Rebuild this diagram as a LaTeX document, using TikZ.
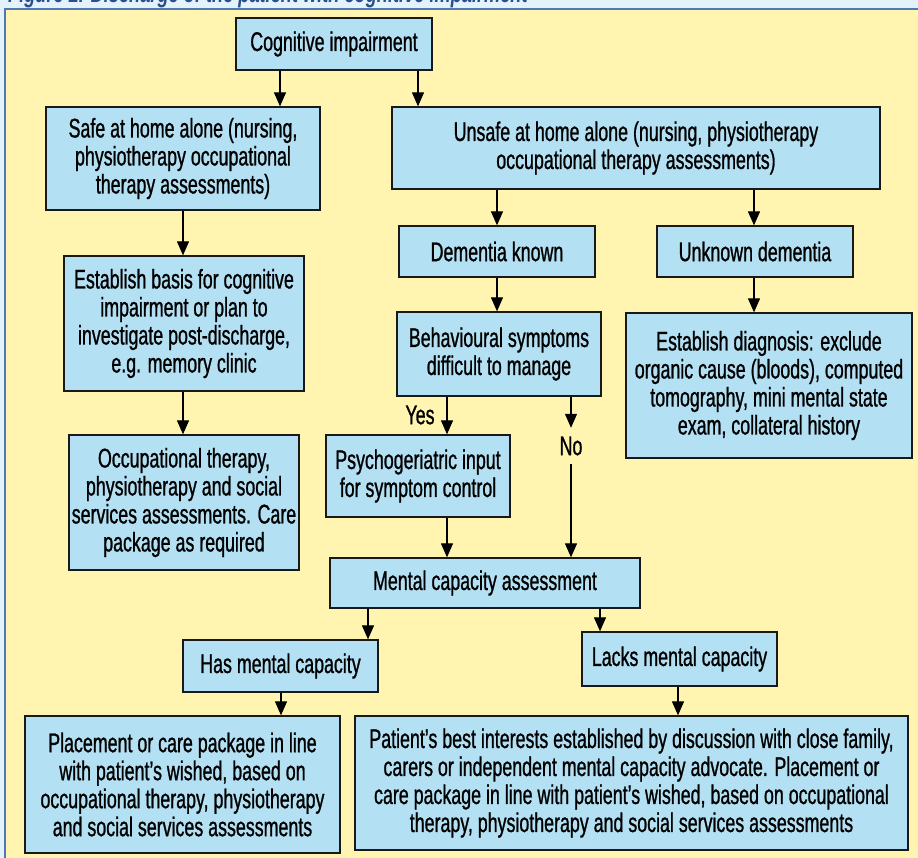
\documentclass[tikz,border=0pt]{standalone}
\usepackage{fontspec}
\setmainfont{Liberation Sans}[FakeStretch=0.66,FakeBold=0.9]
\newfontfamily\titlefont{Liberation Sans}[FakeStretch=0.7]
\usetikzlibrary{arrows.meta}
\definecolor{outerbg}{HTML}{E4F2FB}
\definecolor{panel}{HTML}{FFF5B0}
\definecolor{panelline}{HTML}{4F79B3}
\definecolor{boxfill}{HTML}{B3E0F3}
\definecolor{titleblue}{HTML}{2B4F8E}
\tikzset{
  fc/.style={draw=black!90, line width=1.3pt, fill=boxfill, align=center, inner sep=0pt,
    font=\fontsize{27}{28}\selectfont},
  arr/.style={line width=1.2pt, -{Triangle[length=14pt,width=12pt]}},
  lbl/.style={font=\fontsize{27}{28}\selectfont, inner sep=1pt}
}
\begin{document}
\begin{tikzpicture}[x=1pt,y=-1pt]
\useasboundingbox (0,0) rectangle (918,858);
\fill[outerbg] (0,0) rectangle (918,858);
\fill[panel] (5,9) rectangle (930,870);
\draw[panelline, line width=2pt] (5,870) -- (5,9) -- (930,9);
\node[anchor=base west, text=titleblue, inner sep=0pt, font=\titlefont\fontsize{26}{28}\selectfont\bfseries\itshape] (title) at (8,3) {Figure 2. Discharge of the patient with cognitive impairment};

\node[fc, minimum width=196pt, minimum height=52pt] (cog) at (334,44) {Cognitive impairment};
\node[fc, minimum width=274pt, minimum height=103pt] (safe) at (183,158.5) {Safe at home alone (nursing,\\physiotherapy occupational\\therapy assessments)};
\node[fc, minimum width=488pt, minimum height=82pt] (unsafe) at (636,148) {Unsafe at home alone (nursing, physiotherapy\\occupational therapy assessments)};
\node[fc, minimum width=196pt, minimum height=51pt] (dk) at (497,251.5) {Dementia known};
\node[fc, minimum width=196pt, minimum height=51pt] (ud) at (755,251.5) {Unknown dementia};
\node[fc, minimum width=204pt, minimum height=84pt] (beh) at (499,354) {Behavioural symptoms\\difficult to manage};
\node[fc, minimum width=286pt, minimum height=145pt] (diag) at (769,385.5) {Establish diagnosis: exclude\\organic cause (bloods), computed\\tomography, mini mental state\\exam, collateral history};
\node[fc, minimum width=240pt, minimum height=135pt] (basis) at (184,323.5) {Establish basis for cognitive\\impairment or plan to\\investigate post-discharge,\\e.g. memory clinic};
\node[fc, minimum width=230pt, minimum height=135pt] (occ) at (184,502.5) {Occupational therapy,\\physiotherapy and social\\services assessments. Care\\package as required};
\node[fc, minimum width=184pt, minimum height=82pt] (psy) at (418,476) {Psychogeriatric input\\for symptom control};
\node[fc, minimum width=310pt, minimum height=50pt] (mca) at (485,583) {Mental capacity assessment};
\node[fc, minimum width=195pt, minimum height=52pt] (has) at (280.5,666) {Has mental capacity};
\node[fc, minimum width=195pt, minimum height=54pt] (lacks) at (679.5,659) {Lacks mental capacity};
\node[fc, minimum width=315pt, minimum height=137pt] (bl) at (182.5,784.5) {Placement or care package in line\\with patient’s wished, based on\\occupational therapy, physiotherapy\\and social services assessments};
\node[fc, minimum width=553pt, minimum height=134pt] (br) at (631.5,783) {Patient’s best interests established by discussion with close family,\\carers or independent mental capacity advocate. Placement or\\care package in line with patient’s wished, based on occupational\\therapy, physiotherapy and social services assessments};

\node[lbl] (yes) at (420,415) {Yes};
\node[lbl, minimum height=36pt] (no) at (571,446) {No};

\draw[arr] (280,0 |- cog.south) -- (280,0 |- safe.north);
\draw[arr] (418,0 |- cog.south) -- (418,0 |- unsafe.north);
\draw[arr] (183,0 |- safe.south) -- (183,0 |- basis.north);
\draw[arr] (183,0 |- basis.south) -- (183,0 |- occ.north);
\draw[arr] (497,0 |- unsafe.south) -- (497,0 |- dk.north);
\draw[arr] (754,0 |- unsafe.south) -- (754,0 |- ud.north);
\draw[arr] (497,0 |- dk.south) -- (497,0 |- beh.north);
\draw[arr] (754,0 |- ud.south) -- (754,0 |- diag.north);
\draw[arr] (447,0 |- beh.south) -- (447,0 |- psy.north);
\draw[arr] (571,0 |- beh.south) -- (no.north);
\draw[arr] (no.south) -- (571,0 |- mca.north);
\draw[arr] (447,0 |- psy.south) -- (447,0 |- mca.north);
\draw[arr] (368,0 |- mca.south) -- (368,0 |- has.north);
\draw[arr] (600,0 |- mca.south) -- (600,0 |- lacks.north);
\draw[arr] (281,0 |- has.south) -- (281,0 |- bl.north);
\draw[arr] (678,0 |- lacks.south) -- (678,0 |- br.north);
\end{tikzpicture}
\end{document}
